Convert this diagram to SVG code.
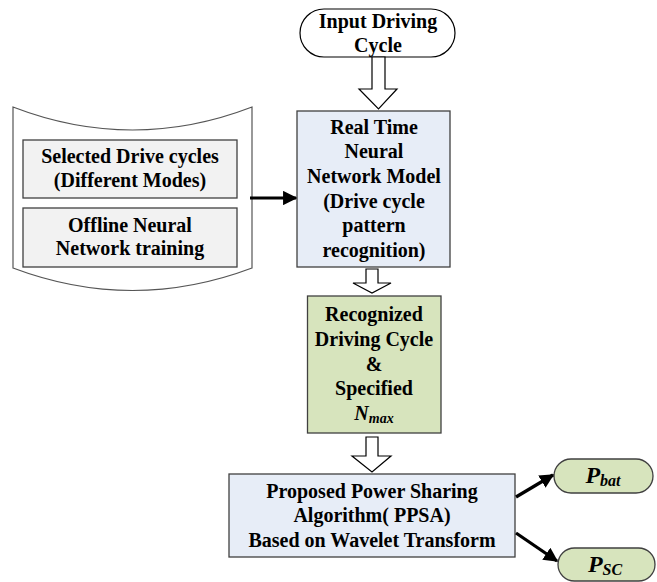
<svg xmlns="http://www.w3.org/2000/svg" width="657" height="582" viewBox="0 0 657 582">
<defs>
<style>
text{font-family:"Liberation Serif","Times New Roman",serif;font-weight:bold;font-size:20px;fill:#000;text-anchor:middle}
.blue{fill:#e7edf7;stroke:#404040;stroke-width:1.3}
.green{fill:#d7e4bd;stroke:#404040;stroke-width:1.3}
.gray{fill:#f2f2f2;stroke:#404040;stroke-width:1.3}
.hollow{fill:#fff;stroke:#000;stroke-width:1.2;stroke-linejoin:miter}
.conn{stroke:#000;stroke-width:3.2;fill:none}
</style>
<marker id="ah" viewBox="0 0 10 10" refX="9" refY="5" markerWidth="4.5" markerHeight="4.5" orient="auto" markerUnits="strokeWidth">
<path d="M0,0 L10,5 L0,10 z" fill="#000"/>
</marker>
</defs>

<g id="input">
<rect x="300" y="9" width="155" height="48" rx="24" ry="24" fill="#fff" stroke="#000" stroke-width="1.2"/>
<text x="378" y="28">Input Driving</text>
<text x="378" y="52">Cycle</text>
</g>

<g id="training">
<path d="M13,107 Q132.5,153 252,107 L252,268 Q132.5,313 13,268 Z" fill="#fff" stroke="#555" stroke-width="1.2"/>
<rect class="gray" x="23" y="140" width="214" height="58"/>
<text x="130" y="163">Selected Drive cycles</text>
<text x="130" y="187">(Different Modes)</text>
<rect class="gray" x="23" y="208" width="214" height="59"/>
<text x="130" y="232">Offline Neural</text>
<text x="130" y="255">Network training</text>
</g>

<g id="realtime">
<rect class="blue" x="297" y="111" width="153" height="156"/>
<text x="374" y="134">Real Time</text>
<text x="374" y="158">Neural</text>
<text x="374" y="183">Network Model</text>
<text x="374" y="208">(Drive cycle</text>
<text x="374" y="232">pattern</text>
<text x="374" y="257">recognition)</text>
</g>

<g id="recognized">
<rect class="green" x="307.5" y="296" width="133.5" height="137"/>
<text x="374" y="321">Recognized</text>
<text x="374" y="346">Driving Cycle</text>
<text x="374" y="371">&amp;</text>
<text x="374" y="395">Specified</text>
<text x="374" y="420"><tspan font-style="italic">N</tspan><tspan font-style="italic" font-size="14" dy="3">max</tspan></text>
</g>

<g id="ppsa">
<rect class="blue" x="229" y="474" width="286" height="83"/>
<text x="372" y="498">Proposed Power Sharing</text>
<text x="372" y="522">Algorithm( PPSA)</text>
<text x="372" y="547">Based on Wavelet Transform</text>
</g>

<g id="pbat">
<rect class="green" x="554" y="459" width="99" height="34" rx="17" ry="17"/>
<text x="603" y="483"><tspan font-style="italic" font-size="24">P</tspan><tspan font-style="italic" font-size="16" dy="3">bat</tspan></text>
</g>

<g id="psc">
<rect class="green" x="558" y="548" width="97" height="33" rx="16.5" ry="16.5"/>
<text x="605" y="572"><tspan font-style="italic" font-size="24">P</tspan><tspan font-style="italic" font-size="16" dy="3">SC</tspan></text>
</g>

<g id="connectors">
<path class="hollow" d="M372,57 L385,57 L385,89 L397,89 L378.5,109 L359,89 L372,89 Z"/>
<path class="hollow" d="M366,269 L378,269 L378,283 L391,283 L372,293 L353,283 L366,283 Z"/>
<path class="hollow" d="M366,437 L378,437 L378,456 L391,456 L372,472 L352,456 L366,456 Z"/>
<line class="conn" x1="250" y1="198" x2="296" y2="198" marker-end="url(#ah)"/>
<line class="conn" x1="516" y1="497" x2="553" y2="475" marker-end="url(#ah)"/>
<line class="conn" x1="516" y1="533" x2="557" y2="561" marker-end="url(#ah)"/>
</g>
</svg>
